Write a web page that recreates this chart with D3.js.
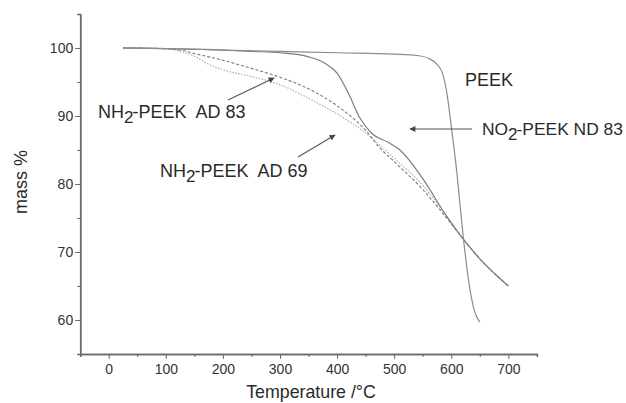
<!DOCTYPE html>
<html>
<head>
<meta charset="utf-8">
<script src="https://cdn.jsdelivr.net/npm/d3@7"></script>
<style>
  body { margin: 0; background: #fff; }
  svg { font-family: "Liberation Sans", Arial, sans-serif; }
  .lbl { font-size: 18px; fill: #2a2a2a; white-space: pre; }
  .tick text { font-size: 14px; fill: #333; }
</style>
</head>
<body>
<svg width="626" height="403"></svg>
<script>
// TGA curves, temperature in degC vs mass %
let peek = [[25,100],[100,99.9],[200,99.7],[300,99.5],[400,99.3],[500,99.1],[540,98.9],[560,98.5],[575,97.6],[585,96.2],[592,93.5],[600,88.5],[610,81.5],[620,73],[630,66],[640,61.5],[650,59.7]]
let no2_nd83 = [[25,100],[100,99.9],[200,99.7],[250,99.5],[300,99.3],[350,98.7],[380,97.7],[400,96.3],[420,93.3],[440,89.7],[460,87.5],[490,86.1],[510,85],[550,80.8],[590,75.5],[620,72],[650,69],[680,66.5],[700,65]]
let nh2_ad83 = [[25,100],[100,99.9],[125,99.7],[150,99.2],[200,98.2],[250,97],[300,95.7],[350,94],[400,91.5],[450,87.9],[475,85.3],[500,83.3],[550,79.2],[590,75.2],[620,72],[650,69],[680,66.5],[700,65]]
let nh2_ad69 = [[25,100],[100,99.9],[125,99.5],[150,98.8],[175,97.6],[200,96.8],[250,95.8],[300,94.6],[350,92.6],[400,90.3],[450,87.5],[475,85.7],[500,83.8],[550,79.8],[590,75.5],[620,72],[650,69],[680,66.5],[700,65]]

let xMajor = [0,100,200,300,400,500,600,700]
let xMinor = [-50,50,150,250,350,450,550,650,750]
let yMajor = [60,70,80,90,100]
let yMinor = [55,65,75,85,95,105]

let svg = d3.select('svg')

let x = d3.scaleLinear().domain([-50, 750]).range([80.2, 536.9])
let y = d3.scaleLinear().domain([55, 105]).range([354, 14])

let axisCol = '#6a6a6a'

// axes
let gx = svg.append('g').attr('transform', 'translate(0,354)')
gx.call(d3.axisBottom(x).tickValues(xMajor).tickSize(5).tickSizeOuter(0).tickFormat(d3.format('d')))
gx.append('g').call(d3.axisBottom(x).tickValues(xMinor).tickSize(3).tickFormat(''))
gx.selectAll('.domain').attr('stroke', axisCol).attr('stroke-width', 1.5)
gx.selectAll('.tick line').attr('stroke', axisCol)
gx.selectAll('.tick text').attr('dy', '1em').attr('y', 6)

let gy = svg.append('g').attr('transform', 'translate(80.2,0)')
gy.call(d3.axisLeft(y).tickValues(yMajor).tickSize(5).tickSizeOuter(0).tickFormat(d3.format('d')))
gy.append('g').call(d3.axisLeft(y).tickValues(yMinor).tickSize(3).tickFormat(''))
gy.selectAll('.domain').attr('stroke', axisCol).attr('stroke-width', 1.5)
gy.selectAll('.tick line').attr('stroke', axisCol)
gy.selectAll('.tick text').attr('x', -7)

// curves
let line = d3.line().x(d => x(d[0])).y(d => y(d[1])).curve(d3.curveMonotoneX)

let series = [
  {data: nh2_ad69, stroke: '#a8a8a8', dash: '1.5,1.5', w: 1.1},
  {data: nh2_ad83, stroke: '#7a7a7a', dash: '3,2', w: 1.1},
  {data: no2_nd83, stroke: '#7d7d7d', dash: null, w: 1.2},
  {data: peek, stroke: '#8c8c8c', dash: null, w: 1.2}
]

svg.append('g').selectAll('path')
  .data(series)
  .enter().append('path')
  .attr('d', d => line(d.data))
  .attr('fill', 'none')
  .attr('stroke', d => d.stroke)
  .attr('stroke-width', d => d.w)
  .attr('stroke-dasharray', d => d.dash)

// arrows
svg.append('defs').append('marker')
  .attr('id', 'ah').attr('viewBox', '0 0 10 10').attr('refX', 9).attr('refY', 5)
  .attr('markerWidth', 8).attr('markerHeight', 6).attr('markerUnits', 'userSpaceOnUse')
  .attr('orient', 'auto')
  .append('path').attr('d', 'M0,0 L10,5 L0,10 z').attr('fill', '#444')

let arrows = [[228,100,274,78],[298,157,335,135],[472,129,410,129]]
svg.append('g').selectAll('line').data(arrows).enter().append('line')
  .attr('x1', d => d[0]).attr('y1', d => d[1]).attr('x2', d => d[2]).attr('y2', d => d[3])
  .attr('stroke', '#555').attr('stroke-width', 1.1).attr('marker-end', 'url(#ah)')

// labels with subscript 2
let sub = (a, s, b, px, py, fs) => {
  let tx = svg.append('text').attr('class', 'lbl').attr('x', px).attr('y', py)
  if (fs) tx.style('font-size', fs + 'px')
  tx.append('tspan').text(a)
  tx.append('tspan').attr('dy', 5).attr('font-size', 17).text(s)
  tx.append('tspan').attr('dy', -5).attr('dx', -1).text(b)
}
sub('NH', '2', '-PEEK  AD 83', 98, 118)
sub('NH', '2', '-PEEK  AD 69', 160, 177)
sub('NO', '2', '-PEEK ND 83', 482, 135, 17.4)
svg.append('text').attr('class', 'lbl').attr('x', 465).attr('y', 86).text('PEEK')

svg.append('text').attr('x', 311).attr('y', 398).attr('text-anchor', 'middle')
  .attr('font-size', 17.8).attr('fill', '#2a2a2a').text('Temperature /°C')
svg.append('text').attr('transform', 'translate(26.5,182) rotate(-90)').attr('text-anchor', 'middle')
  .attr('font-size', 18).attr('fill', '#2a2a2a').text('mass %')
</script>
</body>
</html>
